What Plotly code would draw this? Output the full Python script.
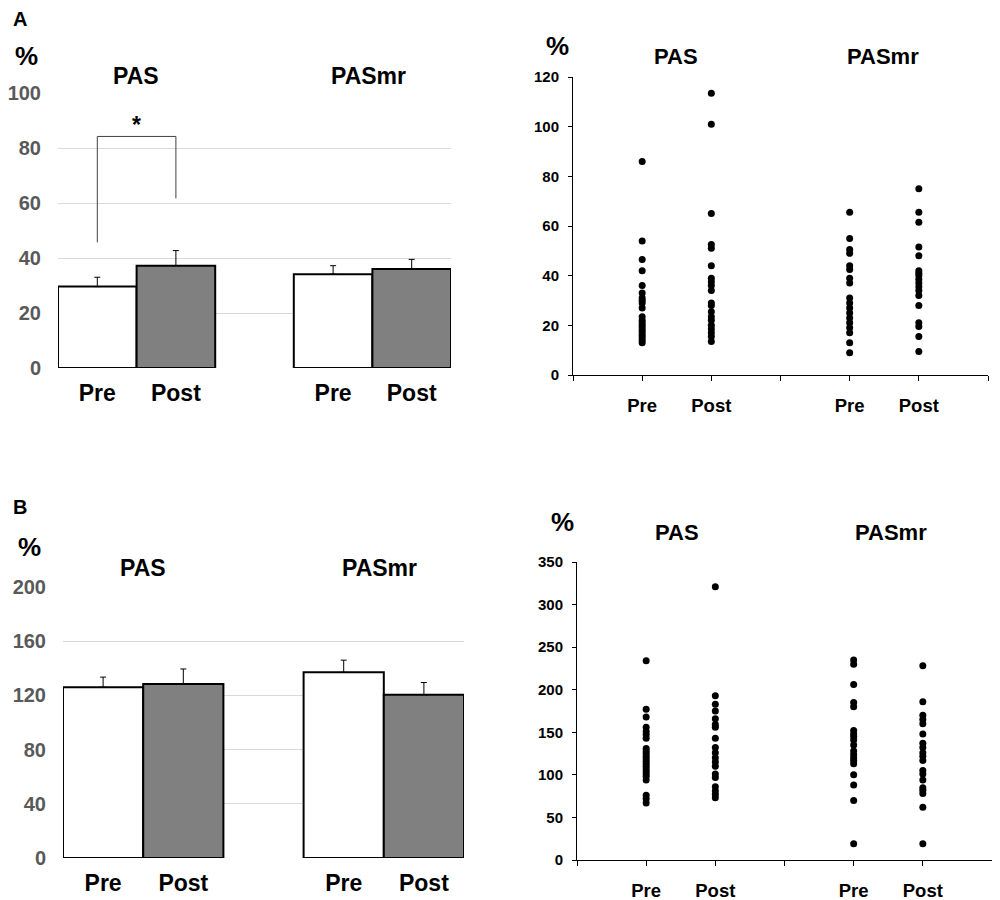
import plotly.graph_objects as go

# --- datos ---
grupos = ["PAS", "PASmr"]
fases = ["Pre", "Post"]

# A: barras (media y error estandar, %)
a_pre_media = [29.6, 34.1]
a_pre_err = [3.4, 3.1]
a_post_media = [37.2, 36.0]
a_post_err = [5.5, 3.5]

# B: barras
b_pre_media = [126, 137]
b_pre_err = [7.5, 9]
b_post_media = [128.5, 120.5]
b_post_err = [11, 9]

# A: valores individuales
a_pas_pre = [86, 54, 46.5, 42, 36, 33, 31, 30, 29, 27, 23.5, 22, 21, 20, 19, 18, 17, 16, 15, 14, 13]
a_pas_post = [113.5, 101, 65, 52.5, 51, 44, 39, 37.5, 36, 34, 29, 28, 25.5, 23.5, 22, 20, 18.5, 17, 15.5, 13.5]
a_mr_pre = [65.5, 55, 50.5, 49, 44, 42.5, 39, 37, 31, 29, 27, 25, 23, 21, 19, 17, 13, 9]
a_mr_post = [75, 65.5, 61.5, 51.5, 48, 42, 41, 40, 38.5, 37, 35.5, 34, 32, 28, 21, 19.5, 15.5, 9.5]

# B: valores individuales
b_pas_pre = [234, 177, 168, 156, 151, 147, 143, 131, 128, 125, 122, 119, 116, 113, 110, 107, 104, 101, 98, 94, 76, 72, 67]
b_pas_post = [321, 193, 183, 175, 166, 159, 156, 143, 132, 126, 120, 115, 110, 101, 97, 86, 81, 77, 73]
b_mr_pre = [235, 230, 206, 185, 180, 152, 148, 145, 141, 135, 128, 124, 120, 117, 113, 100, 88, 70, 19]
b_mr_post = [228, 186, 170, 165, 160, 148, 137, 132, 126, 122, 117, 105, 101, 94, 85, 82, 78, 62, 19]

# significancia PAS pre vs post (A)
sig_izq, sig_arriba, sig_der = 45.7, 84.2, 61.7

FUENTE = "Arial, Liberation Sans, sans-serif"
pos_pre = [0.5, 3.5]
pos_post = [1.5, 4.5]

# la pagina deja 8 px de margen: figura de 992x892 y coordenadas de pantalla
ANCHO, ALTO, OFF = 992, 892, 8


def px(x):
    return (x - OFF) / ANCHO


def py(y):
    return 1 - (y - OFF) / ALTO


fig = go.Figure()


def barras(xa, ya, pre, pre_e, post, post_e):
    fig.add_trace(go.Bar(
        x=pos_pre, y=pre, width=1, xaxis=xa, yaxis=ya,
        marker=dict(color="white", line=dict(color="black", width=2)),
        error_y=dict(type="data", symmetric=False, array=pre_e, arrayminus=[0, 0],
                     color="black", thickness=1, width=3),
        showlegend=False))
    fig.add_trace(go.Bar(
        x=pos_post, y=post, width=1, xaxis=xa, yaxis=ya,
        marker=dict(color="#808080", line=dict(color="black", width=2)),
        error_y=dict(type="data", symmetric=False, array=post_e, arrayminus=[0, 0],
                     color="black", thickness=1, width=3),
        showlegend=False))


def puntos(xa, ya, series):
    for xpos, vals in zip([1, 2, 4, 5], series):
        fig.add_trace(go.Scatter(
            x=[xpos] * len(vals), y=vals, mode="markers", xaxis=xa, yaxis=ya,
            marker=dict(color="black", size=7), showlegend=False))


barras("x", "y", a_pre_media, a_pre_err, a_post_media, a_post_err)
puntos("x2", "y2", [a_pas_pre, a_pas_post, a_mr_pre, a_mr_post])
barras("x3", "y3", b_pre_media, b_pre_err, b_post_media, b_post_err)
puntos("x4", "y4", [b_pas_pre, b_pas_post, b_mr_pre, b_mr_post])

# corchete de significancia
fig.add_shape(type="path", xref="x", yref="y",
              path=f"M 0.5 {sig_izq} L 0.5 {sig_arriba} L 1.5 {sig_arriba} L 1.5 {sig_der}",
              line=dict(color="#404040", width=1))
fig.add_annotation(x=1.0, y=sig_arriba, xref="x", yref="y", text="<b>*</b>", showarrow=False,
                   yanchor="bottom", yshift=-4, font=dict(family=FUENTE, size=23, color="black"))

negrita = dict(family=FUENTE, weight="bold")
eje_bar_x = dict(range=[0, 5], tickvals=sorted(pos_pre + pos_post), ticktext=fases * 2,
                 showgrid=False, zeroline=False, showline=False, ticks="", automargin=False,
                 tickfont=dict(negrita, size=23, color="black"), ticklabelstandoff=9)
eje_bar_y = dict(showline=False, zeroline=False, showgrid=True, gridcolor="#d9d9d9",
                 gridwidth=1, ticks="", automargin=False,
                 tickfont=dict(negrita, size=20, color="#595959"), ticklabelstandoff=16)
eje_sc_x = dict(range=[0, 6], tickvals=[0, 1, 2, 3, 4, 5, 6],
                ticktext=["", "Pre", "Post", "", "Pre", "Post", ""],
                showgrid=False, zeroline=False, showline=True, linecolor="black", linewidth=1,
                ticks="outside", ticklen=5, tickcolor="black", automargin=False,
                tickfont=dict(negrita, size=18.5, color="black"), ticklabelstandoff=9)
eje_sc_y = dict(showgrid=False, zeroline=False, showline=True, linecolor="black", linewidth=1,
                ticks="outside", ticklen=4, tickcolor="black", automargin=False,
                tickfont=dict(negrita, size=15, color="black"), ticklabelstandoff=6)

fig.update_layout(
    width=ANCHO, height=ALTO,
    margin=dict(l=0, r=0, t=0, b=0),
    paper_bgcolor="white", plot_bgcolor="white",
    font=dict(family=FUENTE),
    barmode="overlay",
    xaxis=dict(eje_bar_x, domain=[px(58), px(451)], anchor="y"),
    yaxis=dict(eje_bar_y, domain=[py(368), py(93)], range=[0, 100], dtick=20, anchor="x"),
    xaxis2=dict(eje_sc_x, domain=[px(573), px(988)], anchor="y2"),
    yaxis2=dict(eje_sc_y, domain=[py(375), py(77)], range=[0, 120], dtick=20, anchor="x2"),
    xaxis3=dict(eje_bar_x, domain=[px(63), px(464)], anchor="y3"),
    yaxis3=dict(eje_bar_y, domain=[py(858), py(587)], range=[0, 200], dtick=40, anchor="x3"),
    xaxis4=dict(eje_sc_x, domain=[px(577), px(992)], anchor="y4"),
    yaxis4=dict(eje_sc_y, domain=[py(860), py(562)], range=[0, 350], dtick=50, anchor="x4"),
)


def texto(x, y, t, size, anchor="center"):
    fig.add_annotation(x=px(x), y=py(y), xref="paper", yref="paper", text=t,
                       showarrow=False, xanchor=anchor, yanchor="middle", borderpad=0,
                       font=dict(family=FUENTE, size=size, color="black"))


texto(12, 19, "<b>A</b>", 20, "left")
texto(12, 507, "<b>B</b>", 20, "left")
texto(26, 56, "<b>%</b>", 26)
texto(29, 547, "<b>%</b>", 26)
texto(557, 46, "<b>%</b>", 26)
texto(562, 522, "<b>%</b>", 26)
texto(136, 76, "<b>PAS</b>", 23)
texto(368, 76, "<b>PASmr</b>", 23)
texto(143, 568, "<b>PAS</b>", 23)
texto(379, 568, "<b>PASmr</b>", 23)
texto(676, 56, "<b>PAS</b>", 22)
texto(883, 56, "<b>PASmr</b>", 22)
texto(677, 532, "<b>PAS</b>", 22)
texto(891, 532, "<b>PASmr</b>", 22)

fig.write_html("out.html")
